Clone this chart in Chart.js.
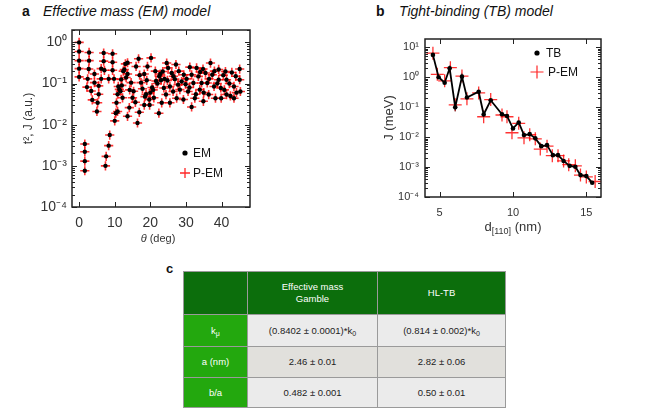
<!DOCTYPE html>
<html><head><meta charset="utf-8">
<script src="https://cdn.jsdelivr.net/npm/chart.js@4.4.1/dist/chart.umd.min.js"></script>
<style>
html,body{margin:0;padding:0;background:#fff;}
body{width:670px;height:410px;position:relative;overflow:hidden;font-family:"Liberation Sans",Arial,Helvetica,sans-serif;color:#111;}
.abs{position:absolute;white-space:nowrap;}
#ca{position:absolute;left:0;top:0;}
#cb{position:absolute;left:340px;top:0;}
.lbl{font-weight:bold;font-size:14px;line-height:14px;}
.ttl{font-style:italic;font-size:14px;line-height:14px;}
#tbl{position:absolute;left:183px;top:271px;border-collapse:collapse;font-size:9.5px;table-layout:fixed;}
#tbl td{border:1px solid #9a9a9a;text-align:center;vertical-align:middle;padding:0;line-height:12px;}
#tbl td.h{background:#0c6e0c;color:#fff;}
#tbl td.g{background:#23a80e;color:#fff;}
#tbl td.c1{background:#ebebeb;color:#222;}
#tbl td.c2{background:#e1e0dc;color:#222;}
#tbl sub{font-size:7px;vertical-align:-2px;line-height:0;}
</style>
</head><body>
<div class="abs lbl" style="left:22px;top:4px;">a</div>
<div class="abs ttl" style="left:43px;top:4px;">Effective mass (EM) model</div>
<div class="abs lbl" style="left:376px;top:4px;">b</div>
<div class="abs ttl" style="left:399px;top:4px;">Tight-binding (TB) model</div>
<div class="abs lbl" style="left:166px;top:262px;font-size:13px;">c</div>
<canvas id="ca" width="270" height="250"></canvas>
<canvas id="cb" width="290" height="250"></canvas>
<div class="abs" style="left:108px;top:231px;width:100px;text-align:center;font-size:11px;line-height:14px;color:#333;"><i>θ</i> (deg)</div>
<div class="abs" style="left:463px;top:219px;width:100px;text-align:center;font-size:13px;line-height:16px;color:#333;">d<sub style="font-size:9px;vertical-align:-3px;line-height:0;">[110]</sub> (nm)</div>
<table id="tbl"></table>
<script>
// ---- Panel a: effective mass model (theta in deg, t^2/J in a.u.) ----
const emTheta = [0,0,0,0,0,1.6,1.6,1.6,1.6,2.4,2.2,2.8,2.8,2.7,3.4,3.7,4.3,4.3,5.0,5.2,5.5,5.5,6.2,6.2,6.9,6.9,7.1,7.4,7.6,8.3,8.6,8.3,9.4,9.4,9.4,9.8,10.0,10.3,10.8,10.8,10.5,11.0,11.3,11.6,11.8,12.0,12.4,12.7,13.0,13.6,13.6,13.2,13.6,14.1,14.6,14.2,15.0,15.3,16.0,16.4,16.7,16.9,17.4,17.0,18.3,18.3,18.8,18.5,19.2,19.7,19.8,20.2,20.5,20.8,21.0,21.6,22.0,22.5,22.4,23.2,23.5,23.8,24.0,24.4,24.6,24.8,25.5,25.5,26.0,26.4,26.9,27.2,27.4,27.8,28.3,28.8,29.3,29.4,29.9,30.6,31.1,31.6,31.6,32.1,32.5,33.0,33.5,33.9,34.4,34.8,34.9,35.5,36.0,36.4,36.9,37.4,37.9,38.3,39.2,39.2,39.8,39.9,41.1,41.4,41.4,42.9,43.5,43.5,45.1,45.1,45.3,22.8,23.0,25.0,26.5,28.0,30.2,31.0,32.8,34.0,35.0,36.5,38.0,38.8,40.5,40.8,42.2,42.5,44.0,44.2,12.2,15.8,17.8,19.0,20.0,21.4];
const emValue = [1.0,0.60,0.36,0.23,0.145,0.0034,0.0022,0.0013,0.00076,0.13,0.082,0.57,0.36,0.225,0.066,0.040,0.17,0.105,0.021,0.034,0.088,0.055,0.23,0.13,0.55,0.35,0.21,0.0010,0.0017,0.0031,0.0056,0.13,0.53,0.33,0.21,0.13,0.0124,0.019,0.021,0.055,0.034,0.085,0.072,0.065,0.126,0.09,0.20,0.22,0.30,0.32,0.17,0.14,0.016,0.026,0.105,0.07,0.045,0.065,0.26,0.011,0.40,0.020,0.105,0.16,0.17,0.03,0.055,0.048,0.26,0.041,0.03,0.42,0.08,0.07,0.045,0.115,0.10,0.15,0.019,0.034,0.196,0.078,0.13,0.054,0.315,0.119,0.085,0.034,0.18,0.064,0.128,0.29,0.044,0.094,0.071,0.112,0.041,0.163,0.096,0.064,0.25,0.163,0.027,0.103,0.044,0.24,0.149,0.071,0.103,0.225,0.037,0.18,0.103,0.054,0.315,0.163,0.085,0.044,0.22,0.124,0.078,0.044,0.196,0.124,0.054,0.186,0.085,0.044,0.225,0.124,0.064,0.17,0.12,0.24,0.15,0.2,0.13,0.08,0.055,0.19,0.06,0.13,0.2,0.1,0.16,0.07,0.1,0.05,0.15,0.06,0.045,0.035,0.075,0.12,0.06,0.2];
const xTicksA = [0,10,20,30,40];
const yTicksA = [1e-4,1e-3,1e-2,1e-1,1];

// ---- Panel b: tight-binding model (d in nm, J in meV) ----
const dTB  = [4.54,4.93,5.34,5.68,6.06,6.52,6.86,7.66,8.0,8.48,9.25,9.59,10.0,10.39,10.75,11.14,11.52,11.93,12.32,12.72,13.07,13.45,13.86,14.25,14.6,15.0,15.4];
const jTB  = [5.6,1.0,0.66,2.0,0.10,1.05,0.21,0.33,0.057,0.17,0.058,0.051,0.0195,0.031,0.0117,0.0126,0.0091,0.0050,0.0054,0.0025,0.0025,0.0016,0.0011,0.00102,0.00054,0.00050,0.00030];
const dPEM = [4.54,4.84,5.34,5.73,6.06,6.52,6.86,7.66,8.0,8.48,9.25,9.59,9.93,10.39,10.75,11.14,11.52,11.86,12.32,12.68,13.07,13.45,13.8,14.25,14.6,15.0,15.6];
const jPEM = [6.4,1.25,0.76,2.1,0.12,1.1,0.19,0.30,0.048,0.18,0.055,0.048,0.014,0.029,0.0095,0.012,0.0088,0.004,0.005,0.0024,0.0024,0.0016,0.0012,0.0011,0.00054,0.00047,0.00033];
const xTicksB = [5,10,15];
const yTicksB = [1e-4,1e-3,1e-2,1e-1,1,10];

// ---- Panel c: table ----
const tableHeader = ['', 'Effective mass<br>Gamble', 'HL-TB'];
const tableRows = [
  ['k<sub>μ</sub>', '(0.8402 ± 0.0001)*k<sub>0</sub>', '(0.814 ± 0.002)*k<sub>0</sub>'],
  ['a (nm)', '2.46 ± 0.01', '2.82 ± 0.06'],
  ['b/a', '0.482 ± 0.001', '0.50 ± 0.01']
];

(function buildTable(){
  const t = document.getElementById('tbl');
  const widths = [64,130,128];
  const heights = [43,32,31,30];
  let html = '<colgroup>' + widths.map(w=>'<col style="width:'+w+'px">').join('') + '</colgroup>';
  html += '<tr style="height:'+heights[0]+'px">' + tableHeader.map(h=>'<td class="h">'+h+'</td>').join('') + '</tr>';
  tableRows.forEach((r,i)=>{
    const cls = i===1 ? 'c2' : 'c1';
    html += '<tr style="height:'+heights[i+1]+'px"><td class="g">'+r[0]+'</td><td class="'+cls+'">'+r[1]+'</td><td class="'+cls+'">'+r[2]+'</td></tr>';
  });
  t.innerHTML = html;
})();

Chart.defaults.font.family = '"Liberation Sans", Arial, Helvetica, sans-serif';
Chart.defaults.color = '#333';

const SUP = {'0':'⁰','1':'¹','2':'²','3':'³','4':'⁴','5':'⁵','-':'⁻'};
function powLabel(v){
  const e = Math.round(Math.log10(v));
  return '10' + String(e).split('').map(c=>SUP[c]).join('');
}

const decor = {
  id:'decor',
  afterDatasetsDraw(chart, args, o){
    const ctx = chart.ctx, a = chart.chartArea, xs = chart.scales.x, ys = chart.scales.y;
    ctx.save();
    ctx.strokeStyle = '#222';
    ctx.lineWidth = 1;
    ctx.beginPath();
    xs.ticks.forEach(t=>{
      const px = Math.round(xs.getPixelForValue(t.value)) + 0.5;
      ctx.moveTo(px, a.bottom); ctx.lineTo(px, a.bottom - o.major);
      ctx.moveTo(px, a.top); ctx.lineTo(px, a.top + o.major);
    });
    const e0 = Math.floor(Math.log10(ys.min)), e1 = Math.ceil(Math.log10(ys.max));
    for (let e = e0; e <= e1; e++) {
      for (let m = 1; m <= 9; m++) {
        const v = m * Math.pow(10, e);
        if (v < ys.min * 0.999 || v > ys.max) continue;
        const py = Math.round(ys.getPixelForValue(v)) + 0.5;
        const L = m === 1 ? o.major : o.minor;
        ctx.moveTo(a.left, py); ctx.lineTo(a.left + L, py);
        ctx.moveTo(a.right, py); ctx.lineTo(a.right - L, py);
      }
    }
    ctx.stroke();
    ctx.lineWidth = 1.5;
    ctx.strokeRect(a.left, a.top, a.right - a.left, a.bottom - a.top);
    // legend
    ctx.font = '12px "Liberation Sans", Arial, sans-serif';
    ctx.textBaseline = 'middle';
    o.legend.forEach(it=>{
      if (it.style === 'circle') {
        ctx.fillStyle = it.color;
        ctx.beginPath(); ctx.arc(it.x, it.y, it.r, 0, Math.PI*2); ctx.fill();
      } else {
        ctx.strokeStyle = it.color; ctx.lineWidth = it.w;
        ctx.beginPath();
        ctx.moveTo(it.x - it.r, it.y); ctx.lineTo(it.x + it.r, it.y);
        ctx.moveTo(it.x, it.y - it.r); ctx.lineTo(it.x, it.y + it.r);
        ctx.stroke();
      }
      ctx.fillStyle = '#111';
      ctx.fillText(it.label, it.tx, it.y + 0.5);
    });
    ctx.restore();
  }
};

function logTicks(list){ return s => { s.ticks = list.map(v=>({value:v, major:true})); }; }
function linTicks(list){ return s => { s.ticks = list.map(v=>({value:v})); }; }

const ptsA = emTheta.map((t,i)=>({x:t, y:emValue[i]}));

new Chart(document.getElementById('ca'), {
  type:'scatter',
  data:{datasets:[
    {label:'EM', data:ptsA, pointStyle:'circle', pointRadius:2.2, pointBackgroundColor:'#000', pointBorderColor:'#000', pointBorderWidth:0, order:0},
    {label:'P-EM', data:ptsA, pointStyle:'cross', pointRadius:4.6, pointBorderColor:'rgba(255,0,0,0.8)', pointBackgroundColor:'rgba(0,0,0,0)', pointBorderWidth:1.6, order:1}
  ]},
  options:{
    responsive:false, animation:false, devicePixelRatio:1,
    layout:{padding:{top:30,right:20,left:0,bottom:0}},
    plugins:{legend:{display:false}, tooltip:{enabled:false},
      decor:{major:5, minor:3, legend:[
        {style:'circle', color:'#000', r:2.6, x:185, y:153, tx:193, label:'EM'},
        {style:'cross', color:'rgba(255,0,0,0.85)', r:5, w:1.3, x:185, y:173, tx:193, label:'P-EM'}
      ]}},
    scales:{
      x:{type:'linear', min:-2, max:48, afterBuildTicks:linTicks(xTicksA), afterFit:s=>{s.height=43;},
         grid:{display:false, drawTicks:false}, border:{display:false},
         ticks:{padding:8, font:{size:14}, color:'#333', autoSkip:false, maxRotation:0}},
      y:{type:'logarithmic', min:1e-4, max:2, afterBuildTicks:logTicks(yTicksA), afterFit:s=>{s.width=72;},
         grid:{display:false, drawTicks:false}, border:{display:false},
         ticks:{padding:5, font:{size:14}, color:'#333', autoSkip:false, callback:v=>powLabel(v)},
         title:{display:true, text:'t², J (a.u.)', font:{size:12}, color:'#333', padding:{top:21,bottom:0}}}
    }
  },
  plugins:[decor]
});

const ptsTB = dTB.map((d,i)=>({x:d, y:jTB[i]}));
const ptsPEM = dPEM.map((d,i)=>({x:d, y:jPEM[i]}));

new Chart(document.getElementById('cb'), {
  type:'scatter',
  data:{datasets:[
    {label:'TB', data:ptsTB, showLine:true, borderColor:'#000', borderWidth:1.8, pointStyle:'circle', pointRadius:2.3, pointBackgroundColor:'#000', pointBorderColor:'#000', pointBorderWidth:0, order:0},
    {label:'P-EM', data:ptsPEM, pointStyle:'cross', pointRadius:6.5, pointBorderColor:'rgba(255,0,0,0.8)', pointBackgroundColor:'rgba(0,0,0,0)', pointBorderWidth:1.3, order:1}
  ]},
  options:{
    responsive:false, animation:false, devicePixelRatio:1,
    layout:{padding:{top:39,right:29,left:0,bottom:0}},
    plugins:{legend:{display:false}, tooltip:{enabled:false},
      decor:{major:5, minor:3, legend:[
        {style:'circle', color:'#000', r:2.6, x:197, y:53, tx:206, label:'TB'},
        {style:'cross', color:'rgba(255,0,0,0.85)', r:6.5, w:1.2, x:197, y:72, tx:208, label:'P-EM'}
      ]}},
    scales:{
      x:{type:'linear', min:4, max:16, afterBuildTicks:linTicks(xTicksB), afterFit:s=>{s.height=53;},
         grid:{display:false, drawTicks:false}, border:{display:false},
         ticks:{padding:9, font:{size:11}, color:'#333', autoSkip:false, maxRotation:0}},
      y:{type:'logarithmic', min:1e-4, max:19, afterBuildTicks:logTicks(yTicksB), afterFit:s=>{s.width=85;},
         grid:{display:false, drawTicks:false}, border:{display:false},
         ticks:{padding:6, font:{size:11}, color:'#333', autoSkip:false, callback:v=>powLabel(v)},
         title:{display:true, text:'J (meV)', font:{size:13}, color:'#333', padding:{top:42,bottom:0}}}
    }
  },
  plugins:[decor]
});
</script>
</body></html>
